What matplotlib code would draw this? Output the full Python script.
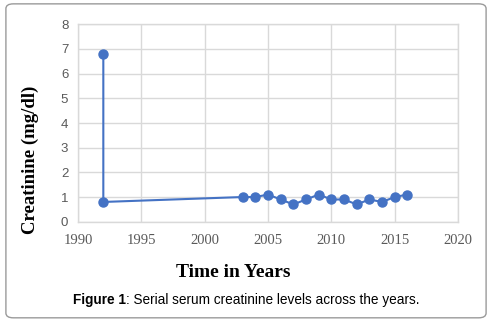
import matplotlib.pyplot as plt
from matplotlib.patches import FancyBboxPatch

# serial creatinine readings (mg/dl) by year
years = [1992, 1992, 2003, 2004, 2005, 2006, 2007, 2008, 2009, 2010, 2011, 2012, 2013, 2014, 2015, 2016]
creatinine = [6.8, 0.8, 1.0, 1.0, 1.1, 0.9, 0.7, 0.9, 1.1, 0.9, 0.9, 0.7, 0.9, 0.8, 1.0, 1.1]
x_ticks = [1990, 1995, 2000, 2005, 2010, 2015, 2020]
y_ticks = [0, 1, 2, 3, 4, 5, 6, 7, 8]

fig = plt.figure(figsize=(4.92, 3.22), dpi=100)
ax = fig.add_axes([0.1585, 0.3115, 0.931 - 0.1585, 0.9245 - 0.3115])

# rounded frame around the whole figure
frame = FancyBboxPatch((0.012, 0.013), 0.976, 0.975, boxstyle="round,pad=0,rounding_size=0.015",
                       transform=fig.transFigure, facecolor='none', edgecolor='#9a9a9a', linewidth=1.0)
fig.patches.append(frame)

ax.plot(years, creatinine, color='#4472C4', linewidth=1.5, marker='o', markersize=6.5,
        markerfacecolor='#4472C4', markeredgecolor='#4472C4', zorder=3)

ax.set_xlim(1990, 2020)
ax.set_ylim(0, 8)
ax.set_xticks(x_ticks)
ax.set_yticks(y_ticks)
ax.grid(True, color='#d9d9d9', linewidth=1.0)
ax.set_axisbelow(True)
for s in ax.spines.values():
    s.set_color('#d9d9d9')
    s.set_linewidth(1.0)
ax.tick_params(axis='y', length=0, pad=7, colors='#595959')
ax.tick_params(axis='x', length=0, pad=9, colors='#595959')
for lab in ax.get_yticklabels():
    lab.set_fontfamily('Liberation Sans')
    lab.set_fontsize(9.5)
for lab in ax.get_xticklabels():
    lab.set_fontfamily('Liberation Serif')
    lab.set_fontsize(10.5)

fig.text(0.061, 0.503, 'Creatinine (mg/dl)', rotation=90, ha='center', va='center',
         fontfamily='Liberation Serif', fontweight='bold', fontsize=13.5)
fig.text(0.475, 0.155, 'Time in Years', ha='center', va='center',
         fontfamily='Liberation Serif', fontweight='bold', fontsize=14)

# caption
cap_y = 0.068
t1 = fig.text(0.148, cap_y, 'Figure 1', ha='left', va='center', fontfamily='Liberation Sans',
              fontweight='bold', fontsize=9.8)
fig.canvas.draw()
bb = t1.get_window_extent()
fig.text(bb.x1 / fig.bbox.width, cap_y, ': Serial serum creatinine levels across the years.',
         ha='left', va='center', fontfamily='Liberation Sans', fontsize=9.8)

fig.savefig('out.png', dpi=100)
